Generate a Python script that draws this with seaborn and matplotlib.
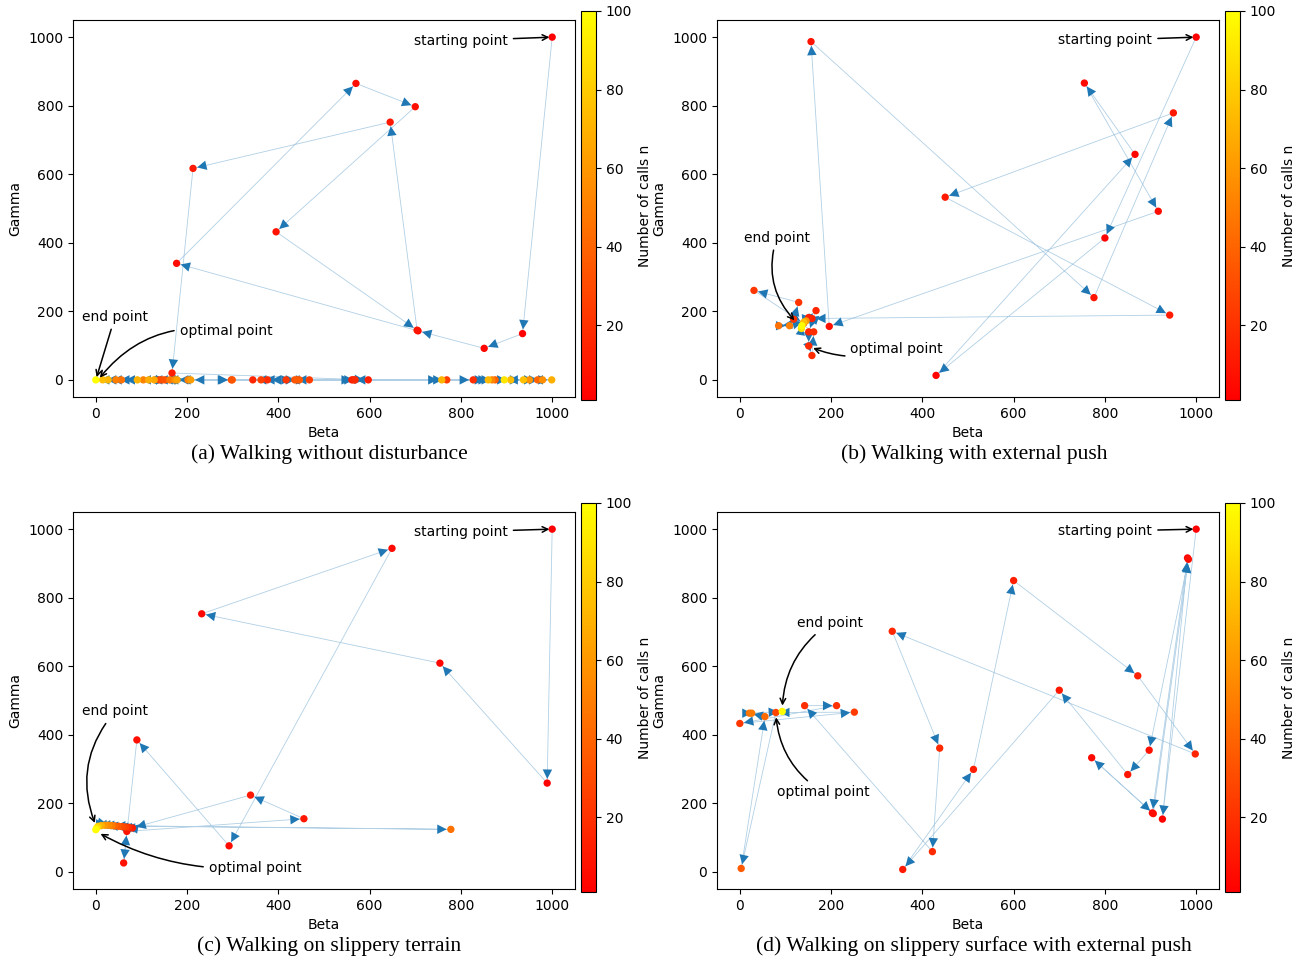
# Bayesian optimisation traces (beta / gamma) for four walking scenarios
import matplotlib
matplotlib.use("Agg")
import matplotlib.pyplot as plt
import seaborn as sns
from matplotlib.colors import Normalize
from matplotlib.cm import ScalarMappable

# (a) Walking without disturbance
a_beta = [1000, 935, 851, 706, 177, 570, 700, 395, 704, 645, 213, 167, 597, 561, 565, 344, 568, 376, 827, 417,
          468, 769, 362, 139, 297, 145, 436, 151, 299, 446, 441, 875, 968, 56, 162, 44, 202, 104, 868, 173,
          979, 950, 208, 178, 128, 116, 999, 91, 758, 27, 860, 909, 15, 937, 895, 0]
a_gamma = [1000, 135, 92, 143, 340, 865, 797, 432, 145, 752, 617, 20, 0, 0, 0, 0, 0, 0, 0, 0,
           0, 0, 0, 0, 0, 0, 0, 0, 0, 0, 0, 0, 0, 0, 0, 0, 0, 0, 0, 0,
           0, 0, 0, 0, 0, 0, 0, 0, 0, 0, 0, 0, 0, 0, 0, 0]
a_calls = [1, 2, 3, 4, 5, 6, 7, 8, 9, 10, 11, 12, 13, 14, 15, 16, 17, 18, 19, 22,
           24, 25, 26, 28, 30, 31, 32, 33, 34, 35, 36, 38, 40, 45, 48, 50, 51, 52, 53, 55,
           56, 58, 62, 64, 66, 68, 69, 70, 71, 72, 73, 74, 75, 76, 90, 100]

# (b) Walking with external push
b_beta = [1000, 800, 430, 866, 755, 917, 196, 156, 776, 950, 450, 942, 158, 151, 167, 151, 151, 158, 162, 118,
          129, 31, 140, 85, 109, 145, 140, 135, 136]
b_gamma = [1000, 414, 13, 658, 866, 492, 156, 987, 240, 779, 533, 189, 179, 182, 202, 140, 99, 71, 140, 177,
           226, 261, 165, 158, 158, 172, 168, 150, 158]
b_calls = [1, 2, 3, 4, 5, 6, 7, 8, 9, 10, 11, 12, 13, 14, 15, 16, 17, 18, 19, 20,
           21, 22, 30, 45, 50, 60, 75, 90, 100]

# (c) Walking on slippery terrain
c_beta = [1000, 989, 754, 232, 649, 292, 90, 61, 68, 456, 339, 80, 72, 65, 58, 50, 42, 778, 35, 28,
          20, 12, 5, 2, 0]
c_gamma = [1000, 259, 609, 753, 944, 76, 385, 26, 118, 155, 224, 128, 130, 131, 132, 133, 134, 124, 135, 136,
           136, 135, 133, 128, 123]
c_calls = [1, 2, 3, 4, 5, 6, 7, 8, 9, 10, 11, 12, 20, 25, 30, 35, 40, 45, 50, 55,
           60, 70, 80, 90, 100]

# (d) Walking on slippery surface with external push
d_beta = [1000, 926, 981, 904, 771, 906, 983, 897, 850, 700, 357, 512, 600, 872, 998, 334, 438, 422, 142, 212,
          0, 251, 79, 3, 55, 21, 26, 93]
d_gamma = [1000, 154, 916, 172, 333, 170, 912, 355, 284, 530, 7, 299, 850, 572, 344, 702, 361, 59, 485, 485,
           433, 466, 465, 10, 453, 463, 463, 468]
d_calls = [1, 2, 3, 4, 5, 6, 7, 8, 9, 10, 11, 12, 13, 14, 15, 16, 17, 18, 19, 20,
           22, 24, 28, 36, 42, 46, 48, 100]

captions = ["(a) Walking without disturbance", "(b) Walking with external push",
            "(c) Walking on slippery terrain", "(d) Walking on slippery surface with external push"]

# annotation anchors: (label, xy, xytext, rad)
notes = [
    [("starting point", (1000, 1000), (800, 990), 0.0),
     ("end point", (0, 0), (42, 184), 0.0),
     ("optimal point", (5, 0), (285, 143), 0.3)],
    [("starting point", (1000, 1000), (801, 991), 0.0),
     ("end point", (124, 168), (81, 415), 0.3),
     ("optimal point", (155, 96), (344, 91), -0.2)],
    [("starting point", (1000, 1000), (800, 992), 0.0),
     ("end point", (0, 135), (42, 468), 0.3),
     ("optimal point", (5, 115), (349, 12), -0.15)],
    [("starting point", (1000, 1000), (801, 994), 0.0),
     ("end point", (93, 477), (197, 726), 0.25),
     ("optimal point", (79, 459), (182, 232), -0.25)],
]

panels = [(a_beta, a_gamma, a_calls), (b_beta, b_gamma, b_calls),
          (c_beta, c_gamma, c_calls), (d_beta, d_gamma, d_calls)]

W, H = 1308, 963
fig = plt.figure(figsize=(W / 100, H / 100), dpi=100)
norm = Normalize(vmin=1, vmax=100)

# pixel boxes: axes left, top
lefts = [73, 717]
tops = [20, 512]
cap_x = [329, 974]
cap_y = [454, 946]

for k, (bx, gy, nc) in enumerate(panels):
    col, row = k % 2, k // 2
    L, T = lefts[col], tops[row]
    ax = fig.add_axes([L / W, 1 - (T + 377) / H, 502 / W, 377 / H])
    cax = fig.add_axes([(L + 508) / W, 1 - (T + 380) / H, 15 / W, 389 / H])

    # faint connecting lines, solid arrow heads, points on top
    ax.plot(bx, gy, color="tab:blue", lw=0.6, alpha=0.35, zorder=1)
    for i in range(len(bx) - 1):
        ax.annotate("", xy=(bx[i + 1], gy[i + 1]), xytext=(bx[i], gy[i]),
                    arrowprops=dict(arrowstyle="-|>", color="tab:blue", lw=0,
                                    mutation_scale=17, shrinkA=0, shrinkB=3),
                    zorder=2)
    sns.scatterplot(x=bx, y=gy, hue=nc, palette="autumn", hue_norm=(1, 100),
                    s=28, linewidth=0, legend=False, ax=ax, zorder=4)

    for label, xy, xyt, rad in notes[k]:
        ax.annotate(label, xy=xy, xytext=xyt, ha="center", va="center", fontsize=10,
                    arrowprops=dict(arrowstyle="->", color="black", lw=1.1,
                                    connectionstyle=f"arc3,rad={rad}"), zorder=5)

    ax.set_xlim(-50, 1050)
    ax.set_ylim(-50, 1050)
    ax.set_xticks([0, 200, 400, 600, 800, 1000])
    ax.set_yticks([0, 200, 400, 600, 800, 1000])
    ax.set_xlabel("Beta", fontsize=10)
    ax.set_ylabel("Gamma", fontsize=10)
    ax.tick_params(labelsize=10)

    sm = ScalarMappable(norm=norm, cmap="autumn")
    cb = fig.colorbar(sm, cax=cax, ticks=[20, 40, 60, 80, 100])
    cb.set_label("Number of calls n", fontsize=10)
    cb.ax.tick_params(labelsize=10)

    fig.text(cap_x[col] / W, 1 - cap_y[row] / H, captions[k], ha="center", va="center",
             family=["Liberation Serif", "DejaVu Serif"], fontsize=15.5)

fig.savefig("out.png", dpi=100)
